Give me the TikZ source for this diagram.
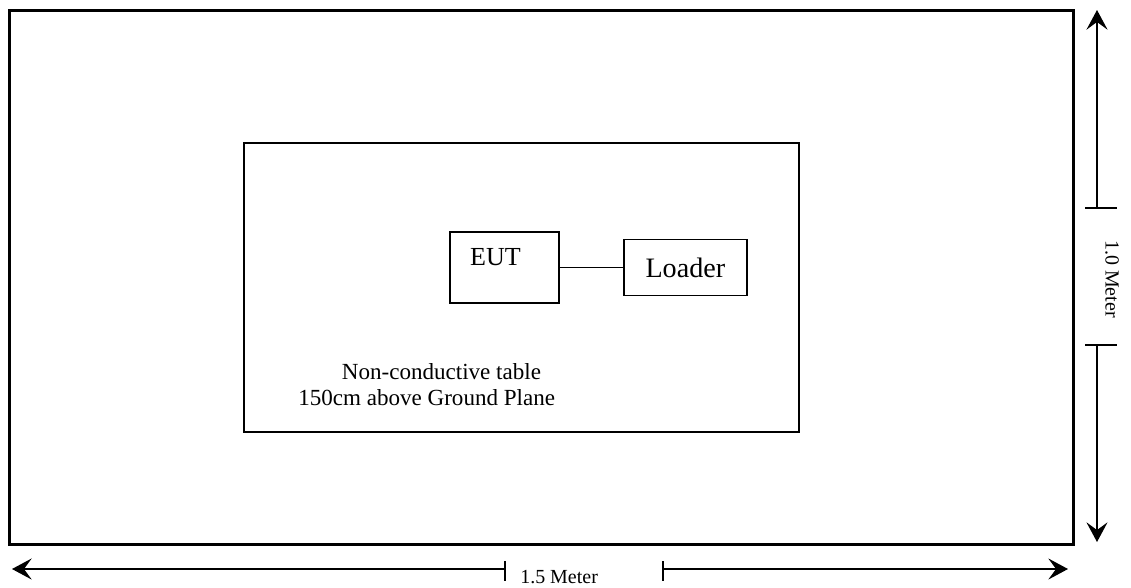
\documentclass[tikz,border=0pt]{standalone}
\usepackage{fontspec}
\setmainfont{Liberation Serif}
\usetikzlibrary{arrows.meta, positioning}

\begin{document}
\begin{tikzpicture}[x=0.025cm, y=-0.025cm]
    \tikzstyle{plane} = [rectangle, draw=black, line width=2.2pt, inner sep=0pt]
    \tikzstyle{tablebox} = [rectangle, draw=black, line width=1.3pt, inner sep=0pt]
    \tikzstyle{unitbox} = [rectangle, draw=black, line width=1.3pt, inner sep=0pt]
    \tikzstyle{wire} = [line width=1.4pt]
    \tikzstyle{dimline} = [line width=1pt, -{Stealth[length=14pt, width=15pt, inset=5.5pt]}]
    \tikzstyle{tickline} = [line width=1pt]

    \useasboundingbox (0,0) rectangle (1131,587);

    \node (ground) [plane, minimum width=26.575cm, minimum height=13.325cm] at (541.5,277.5) {};
    \node (table) [tablebox, minimum width=13.875cm, minimum height=7.225cm] at (521.5,287.5) {};
    \node (eut) [unitbox, minimum width=2.725cm, minimum height=1.775cm] at (504.5,267.5) {};
    \node (euttext) [anchor=base, inner sep=0pt, font=\fontsize{18.5}{22}\selectfont] at (495.5,265) {EUT};
    \node (loader) [unitbox, minimum width=3.075cm, minimum height=1.4cm, right=1.575cm of eut, font=\fontsize{20}{24}\selectfont] {Loader};
    \node (tabletext) [anchor=north west, inner sep=0pt, align=left, font=\fontsize{16.4}{18.5}\selectfont] at (298,363)
        {\hspace*{31pt}Non-conductive table\\150cm above Ground Plane};

    \draw [wire] (eut) -- (loader);

    % 1.0 Meter
    \coordinate (vtop) at (1097,10);
    \coordinate (vmida) at (1097,208);
    \coordinate (vmidb) at (1097,345);
    \coordinate (vbot) at (1097,542);
    \draw [dimline] (vmida) -- (vtop);
    \draw [dimline] (vmidb) -- (vbot);
    \draw [tickline] ([xshift=-0.3cm]vmida) -- ([xshift=0.5cm]vmida);
    \draw [tickline] ([xshift=-0.3cm]vmidb) -- ([xshift=0.5cm]vmidb);
    \node (vlabel) [rotate=-90, inner sep=0pt, font=\fontsize{14.2}{17}\selectfont] at (1112,279) {1.0 Meter};

    % 1.5 Meter
    \coordinate (hleft) at (12,569);
    \coordinate (hmida) at (505,569);
    \coordinate (hmidb) at (663,569);
    \coordinate (hright) at (1068,569);
    \draw [dimline] (hmida) -- (hleft);
    \draw [dimline] (hmidb) -- (hright);
    \draw [tickline] ([yshift=0.2cm]hmida) -- ([yshift=-0.3cm]hmida);
    \draw [tickline] ([yshift=0.2cm]hmidb) -- ([yshift=-0.3cm]hmidb);
    \node (hlabel) [anchor=base west, inner sep=0pt, font=\fontsize{14.2}{17}\selectfont] at (520,583) {1.5 Meter};
\end{tikzpicture}
\end{document}
